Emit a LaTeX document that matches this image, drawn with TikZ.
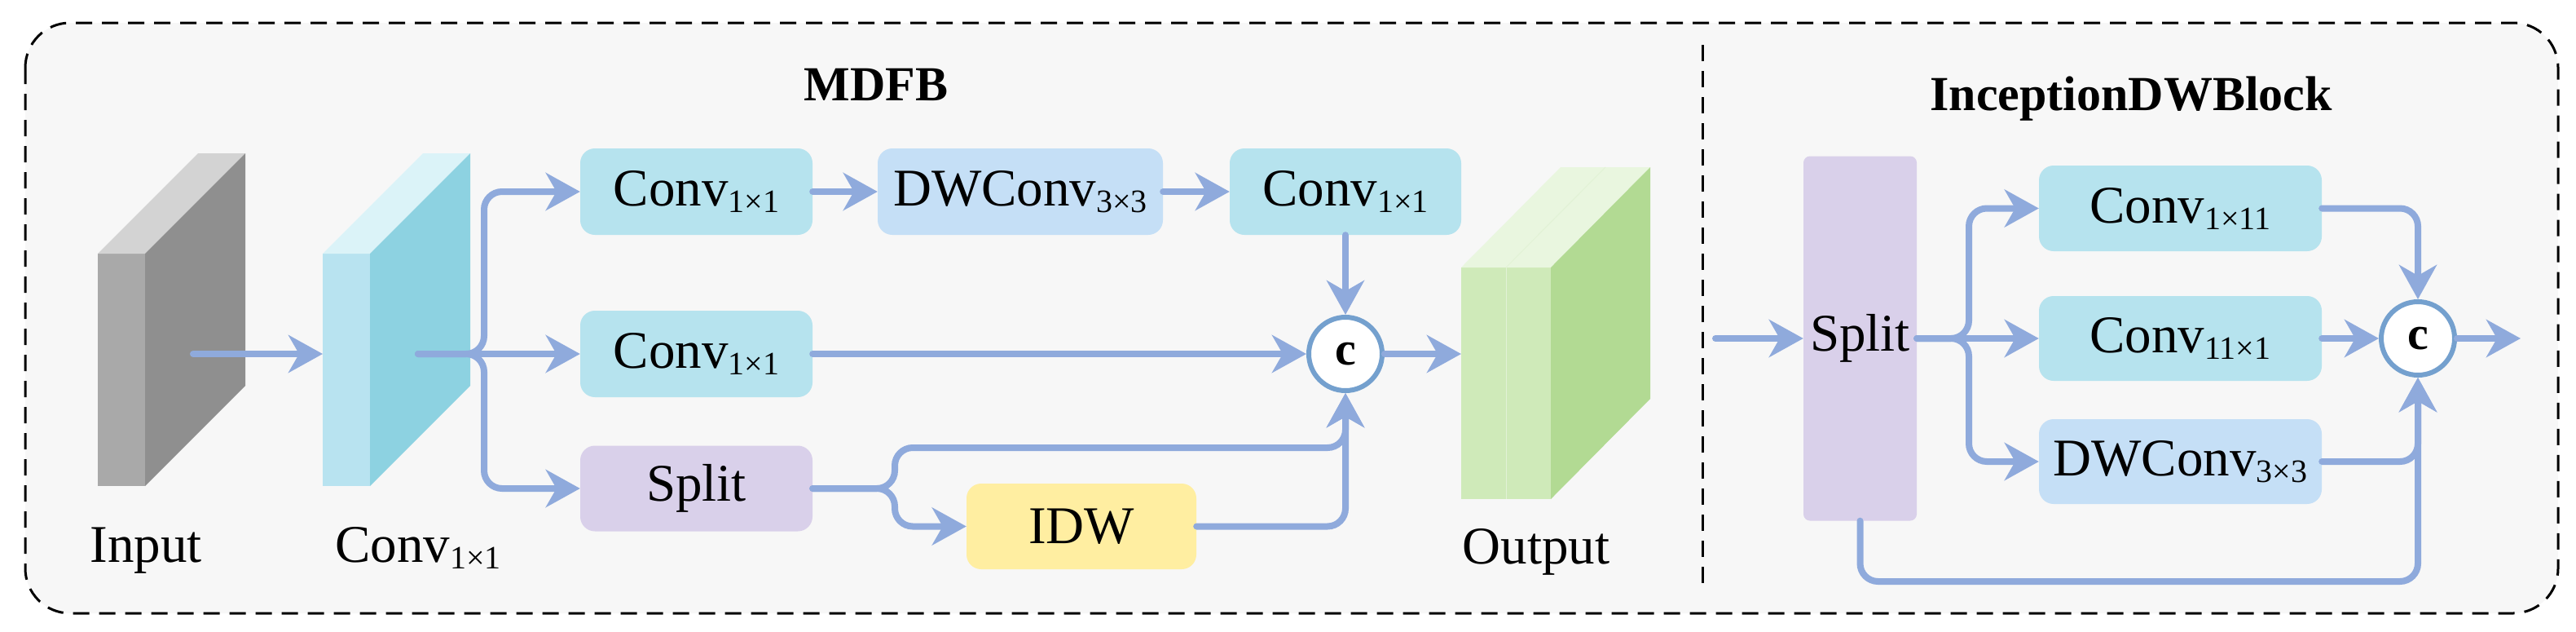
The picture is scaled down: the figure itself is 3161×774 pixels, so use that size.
\documentclass[tikz,border=0pt]{standalone}
\usepackage{fontspec}
\setmainfont{Liberation Serif}
\usetikzlibrary{arrows.meta}
\definecolor{bgc}{HTML}{F7F7F7}
\definecolor{arrc}{HTML}{8FAADC}
\definecolor{catc}{HTML}{74A0CE}
\definecolor{convc}{HTML}{B6E3EE}
\definecolor{dwc}{HTML}{C5DFF6}
\definecolor{splitc}{HTML}{D9D0EA}
\definecolor{idwc}{HTML}{FFEEA1}
\definecolor{inF}{HTML}{A9A9A9}
\definecolor{inS}{HTML}{8F8F8F}
\definecolor{inT}{HTML}{D3D3D3}
\definecolor{cvF}{HTML}{B8E3F0}
\definecolor{cvS}{HTML}{8DD2E1}
\definecolor{cvT}{HTML}{DBF3F8}
\definecolor{ouF}{HTML}{CFEAB9}
\definecolor{ouS}{HTML}{B2DA93}
\definecolor{ouT}{HTML}{E9F6DF}
\definecolor{ouL}{HTML}{E2F2D6}
\newcommand\sbx[1]{\raisebox{-8pt}{\fontsize{40}{40}\selectfont #1}}
\begin{document}
\begin{tikzpicture}[x=1pt,y=-1pt,
 box/.style={rectangle, rounded corners=18pt, inner sep=0pt, font=\fontsize{65}{70}\selectfont},
 arr/.style={draw=arrc, line width=8pt, line cap=round, -{Stealth[length=42pt,width=46pt,inset=13pt]}},
 cat/.style={circle, draw=catc, line width=6pt, fill=white, minimum size=90pt, inner sep=0pt, font=\bfseries\fontsize{58}{58}\selectfont},
 lbl/.style={font=\fontsize{65}{70}\selectfont, inner sep=0pt},
 ttl/.style={font=\bfseries\fontsize{60}{66}\selectfont, inner sep=0pt},
 frame/.style={line width=3pt, dash pattern=on 20pt off 12pt}]
\useasboundingbox (0,0) rectangle (3161,774);
\draw[frame, fill=bgc, rounded corners=55pt] (31,28) rectangle (3139,752);
\draw[frame] (2089,55) -- (2089,725);

% titles
\node[ttl, anchor=base] (t1) at (1075,123) {MDFB};
\node[ttl, anchor=base] (t2) at (2615,135) {InceptionDWBlock};

% input cube
\fill[inF] (120,311) rectangle (178,596);
\fill[inT] (120,311) -- (178,311) -- (301,188) -- (243,188) -- cycle;
\fill[inS] (178,311) -- (301,188) -- (301,473) -- (178,596) -- cycle;
% conv cube
\fill[cvF] (396,311) rectangle (454,596);
\fill[cvT] (396,311) -- (454,311) -- (577,188) -- (519,188) -- cycle;
\fill[cvS] (454,311) -- (577,188) -- (577,473) -- (454,596) -- cycle;
% output cube
\fill[ouF] (1793,328) rectangle (1903,612);
\fill[ouT] (1793,328) -- (1903,328) -- (2025,205) -- (1915,205) -- cycle;
\fill[ouS] (1903,328) -- (2025,205) -- (2025,489) -- (1903,612) -- cycle;
\draw[ouL, line width=1pt] (1848,328) -- (1848,612);
\draw[ouL, line width=1pt] (1848,328) -- (1970,205);

\node[lbl, anchor=base] (linput) at (179,689) {Input};
\node[lbl, anchor=base west] (lconv) at (411,689) {Conv\sbx{1×1}};
\node[lbl, anchor=base] (lout) at (1885,691) {Output};

% MDFB boxes
\node[box, fill=convc, minimum width=285pt, minimum height=106pt] (c1) at (854.5,235) {Conv\sbx{1×1}};
\node[box, fill=dwc, minimum width=350pt, minimum height=106pt] (dw) at (1252,235) {DWConv\sbx{3×3}};
\node[box, fill=convc, minimum width=284pt, minimum height=106pt] (c3) at (1651,235) {Conv\sbx{1×1}};
\node[box, fill=convc, minimum width=285pt, minimum height=106pt] (c2) at (854.5,434) {Conv\sbx{1×1}};
\node[box, fill=splitc, minimum width=285pt, minimum height=105pt] (sp) at (854.5,599) {Split};
\node[box, fill=idwc, minimum width=282pt, minimum height=105pt] (idw) at (1327,645.5) {IDW};
\node[cat] (cc) at (1651,434) {c};

\coordinate (inS1) at (237,434);
\coordinate (cvFr) at (396,434);
\coordinate (cvS1) at (513,434);
\coordinate (b1) at (594,434);
\coordinate (b2) at (1098,599);
\coordinate (m1) at (1651,549);
\coordinate (ouFr) at (1793,434);

\draw[arr] (inS1) -- (cvFr);
\draw[arr, rounded corners=22pt] (cvS1) -- (b1) |- (c1.west);
\draw[arr] (cvS1) -- (c2.west);
\draw[arr, rounded corners=22pt] (cvS1) -- (b1) |- (sp.west);
\draw[arr] (c1.east) -- (dw.west);
\draw[arr] (dw.east) -- (c3.west);
\draw[arr] (c3.south) -- (cc.north);
\draw[arr] (c2.east) -- (cc.west);
\draw[arr] (cc.east) -- (ouFr);
\draw[arr, rounded corners=22pt] (sp.east) -- (b2) |- (m1) -- (cc.south);
\draw[arr, rounded corners=22pt] (sp.east) -- (b2) |- (idw.west);
\draw[arr, rounded corners=22pt] (idw.east) -| (cc.south);

% InceptionDWBlock
\node[box, fill=splitc, rounded corners=8pt, minimum width=139pt, minimum height=447pt] (sp2) at (2282.5,415) {Split};
\node[box, fill=convc, minimum width=347pt, minimum height=105pt] (k1) at (2675.5,255.5) {Conv\sbx{1×11}};
\node[box, fill=convc, minimum width=347pt, minimum height=104pt] (k2) at (2675.5,415) {Conv\sbx{11×1}};
\node[box, fill=dwc, minimum width=347pt, minimum height=104pt] (k3) at (2675.5,566) {DWConv\sbx{3×3}};
\node[cat] (cc2) at (2967,415) {c};

\coordinate (inR) at (2105,415);
\coordinate (b3) at (2416,415);
\coordinate (m2) at (2967,713);
\coordinate (outR) at (3093,415);

\draw[arr] (inR) -- (sp2.west);
\draw[arr, rounded corners=22pt] (sp2.east) -- (b3) |- (k1.west);
\draw[arr] (sp2.east) -- (k2.west);
\draw[arr, rounded corners=22pt] (sp2.east) -- (b3) |- (k3.west);
\draw[arr, rounded corners=22pt] (k1.east) -| (cc2.north);
\draw[arr] (k2.east) -- (cc2.west);
\draw[arr, rounded corners=22pt] (k3.east) -| (cc2.south);
\draw[arr, rounded corners=22pt] (sp2.south) |- (m2) -- (cc2.south);
\draw[arr] (cc2.east) -- (outR);
\end{tikzpicture}
\end{document}
